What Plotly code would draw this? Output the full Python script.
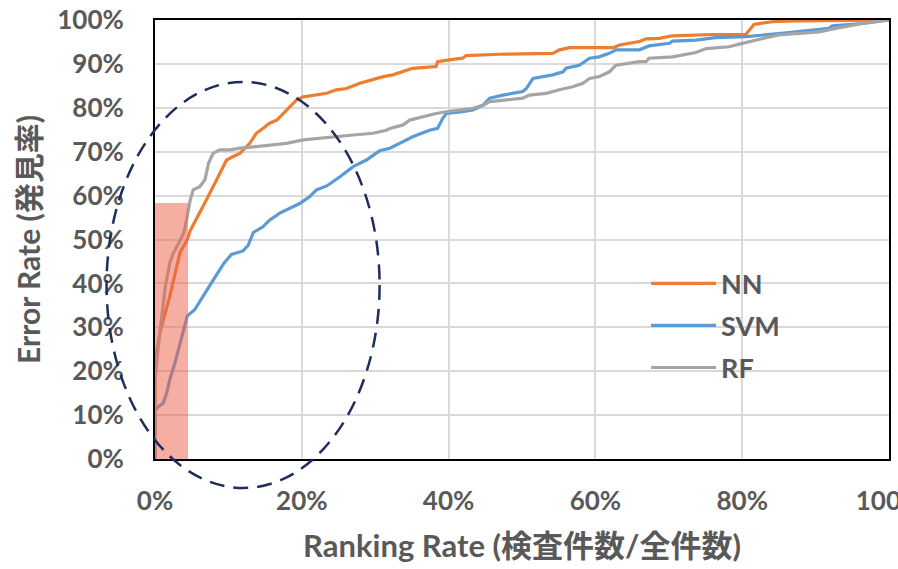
import plotly.graph_objects as go

# Cumulative error-detection curves (x: ranking rate %, y: error rate %)
nn_x = [0, 0, 0.7, 2.0, 3.4, 4.4, 4.8, 6.1, 7.2, 8.4, 9.75, 10.65, 11.56, 12.9, 13.8, 14.7, 15.6, 16.6,
        17.5, 18.4, 19.3, 20.2, 22.0, 23.4, 24.7, 26.1, 27.9, 29.3, 31.1, 32.4, 33.8, 35.1, 38.3, 38.5,
        40.1, 41.9, 42.4, 46.9, 54.2, 55.1, 56.5, 62.4, 63.3, 64.6, 66.0, 66.9, 68.7, 70.5, 76.0, 80.5,
        81.0, 81.6, 84.1, 87.3, 94.6, 100]
nn_y = [0, 22.5, 29, 37, 47, 50, 52, 56, 59.7, 63.6, 68.1, 68.9, 69.6, 71.9, 74.2, 75.3, 76.5, 77.2,
        78.7, 80.3, 81.8, 82.5, 82.9, 83.3, 84.1, 84.4, 85.6, 86.3, 87.1, 87.5, 88.2, 89.0, 89.4, 90.5,
        90.9, 91.3, 91.9, 92.2, 92.4, 93.2, 93.7, 93.7, 94.3, 94.7, 95.1, 95.7, 95.8, 96.4, 96.7, 96.7,
        97.7, 99.0, 99.6, 99.8, 99.9, 100]

svm_x = [0, 0, 0.45, 1.1, 1.6, 2.0, 2.7, 3.2, 3.9, 4.4, 5.4, 6.4, 7.2, 8.4, 9.4, 10.4, 12.0, 12.7, 13.4,
         14.7, 15.6, 17.0, 18.4, 19.7, 21.1, 22.0, 23.4, 24.7, 25.2, 27.0, 28.8, 30.6, 32.0, 33.8, 35.1,
         37.4, 38.5, 39.2, 39.7, 41.9, 43.3, 44.7, 45.6, 47.4, 50.1, 50.6, 51.5, 54.2, 55.6, 56.0, 57.8,
         59.2, 60.5, 61.9, 62.8, 66.0, 66.4, 67.3, 70.1, 70.5, 73.7, 76.4, 80.5, 81.9, 85.0, 89.6, 91.8,
         92.3, 96.4, 100]
svm_y = [0, 11.0, 11.9, 12.7, 15.0, 18.0, 21.8, 24.8, 29.4, 32.6, 34.0, 36.5, 38.8, 42.0, 44.6, 46.6,
         47.4, 48.7, 51.6, 52.9, 54.4, 56.0, 57.1, 58.2, 59.8, 61.3, 62.2, 63.6, 64.3, 66.6, 68.1, 70.2,
         70.8, 72.3, 73.4, 74.9, 75.3, 77.6, 78.7, 79.1, 79.5, 80.6, 82.2, 82.9, 83.7, 84.4, 86.7, 87.5,
         88.2, 89.0, 89.7, 91.3, 91.6, 92.4, 93.2, 93.2, 93.5, 94.1, 94.7, 95.2, 95.4, 96.0, 96.2, 96.4,
         96.9, 97.7, 98.1, 98.7, 99.2, 100]

rf_x = [0, 0, 0.45, 0.9, 1.4, 2.0, 2.5, 3.2, 3.9, 4.3, 4.8, 5.2, 6.1, 6.8, 7.3, 7.9, 8.8, 10.2, 11.6,
        13.4, 15.6, 17.9, 20.2, 22.4, 24.7, 27.0, 29.7, 31.5, 32.0, 33.8, 34.7, 36.5, 38.3, 39.7, 41.5,
        43.3, 44.7, 45.6, 47.9, 50.1, 51.0, 53.3, 55.1, 56.9, 58.3, 59.2, 60.5, 61.9, 62.8, 64.2, 66.0,
        66.9, 67.3, 70.5, 73.7, 75.1, 78.2, 79.6, 81.0, 82.8, 85.0, 87.3, 90.5, 92.7, 94.6, 96.4, 100]
rf_y = [0, 18.0, 25.6, 32.4, 39.2, 44.6, 46.9, 49.1, 51.4, 54.4, 59.0, 61.3, 62.0, 63.6, 67.4, 69.6,
        70.4, 70.4, 70.8, 71.1, 71.5, 71.9, 72.7, 73.0, 73.4, 73.8, 74.2, 74.9, 75.3, 76.1, 77.2, 78.0,
        78.7, 79.1, 79.5, 79.9, 80.6, 81.4, 81.8, 82.2, 82.9, 83.3, 84.1, 84.8, 85.6, 86.7, 87.1, 88.2,
        89.7, 90.1, 90.5, 90.5, 91.3, 91.6, 92.6, 93.5, 93.9, 94.5, 95.1, 95.8, 96.6, 96.9, 97.3, 98.1,
        98.7, 99.2, 100]

series_names = ["NN", "SVM", "RF"]
series_colors = ["#ED7D31", "#5B9BD5", "#A5A5A5"]

# Highlighted top-ranked region
highlight_x = 4.5
highlight_y = 58.3

x_ticks = [0, 20, 40, 60, 80, 100]
y_ticks = list(range(0, 101, 10))
x_labels = [f"{v}%" for v in x_ticks]
y_labels = [f"{v}%" for v in y_ticks]

TEXT = "#595959"
FONT = "Lato, 'Noto Sans CJK JP', sans-serif"

fig = go.Figure()
for name, xs, ys, color in zip(series_names, [nn_x, svm_x, rf_x], [nn_y, svm_y, rf_y], series_colors):
    fig.add_trace(go.Scatter(x=xs, y=ys, mode="lines", name=name, legendgroup=name,
                             line=dict(color=color, width=3.2)))

fig.add_shape(type="rect", xref="x", yref="y", x0=0, x1=highlight_x, y0=0, y1=highlight_y,
              fillcolor="rgba(238,98,76,0.52)", line=dict(width=0), layer="above")

fig.add_shape(type="circle", xref="paper", yref="paper", x0=-0.066, x1=0.306, y0=-0.066, y1=0.859,
              line=dict(color="#1F2D5C", width=2.5, dash="15px,9px"), fillcolor="rgba(0,0,0,0)",
              layer="above")

fig.update_layout(
    width=898, height=569,
    margin=dict(l=155, r=9, t=20, b=110),
    paper_bgcolor="white", plot_bgcolor="white",
    font=dict(family=FONT, color=TEXT, size=24),
    showlegend=True,
    legend=dict(x=0.669, y=0.455, xanchor="left", yanchor="top", bgcolor="rgba(0,0,0,0)",
                font=dict(size=27, color=TEXT, family=FONT, weight="bold"),
                itemwidth=65, tracegroupgap=4),
)
fig.update_xaxes(range=[0, 100], tickvals=x_ticks, ticktext=x_labels, showgrid=True,
                 gridcolor="#D9D9D9", gridwidth=2, showline=True, linecolor="black", linewidth=2,
                 mirror=True, zeroline=False, ticks="", ticklabelstandoff=18,
                 ticklabeloverflow="allow", automargin=False,
                 tickfont=dict(size=26, color=TEXT, family=FONT, weight="bold"),
                 title=dict(text="Ranking Rate (検査件数/全件数)", standoff=20,
                            font=dict(size=31, color=TEXT, family=FONT, weight="bold")))
fig.update_yaxes(range=[0, 100], tickvals=y_ticks, ticktext=y_labels, showgrid=True,
                 gridcolor="#D9D9D9", gridwidth=2, showline=True, linecolor="black", linewidth=2,
                 mirror=True, zeroline=False, ticks="", ticklabelstandoff=24,
                 ticklabeloverflow="allow", automargin=False,
                 tickfont=dict(size=26, color=TEXT, family=FONT, weight="bold"),
                 title=dict(text="Error Rate (発見率)", standoff=8,
                            font=dict(size=30, color=TEXT, family=FONT, weight="bold")))

fig.write_html("out.html")
